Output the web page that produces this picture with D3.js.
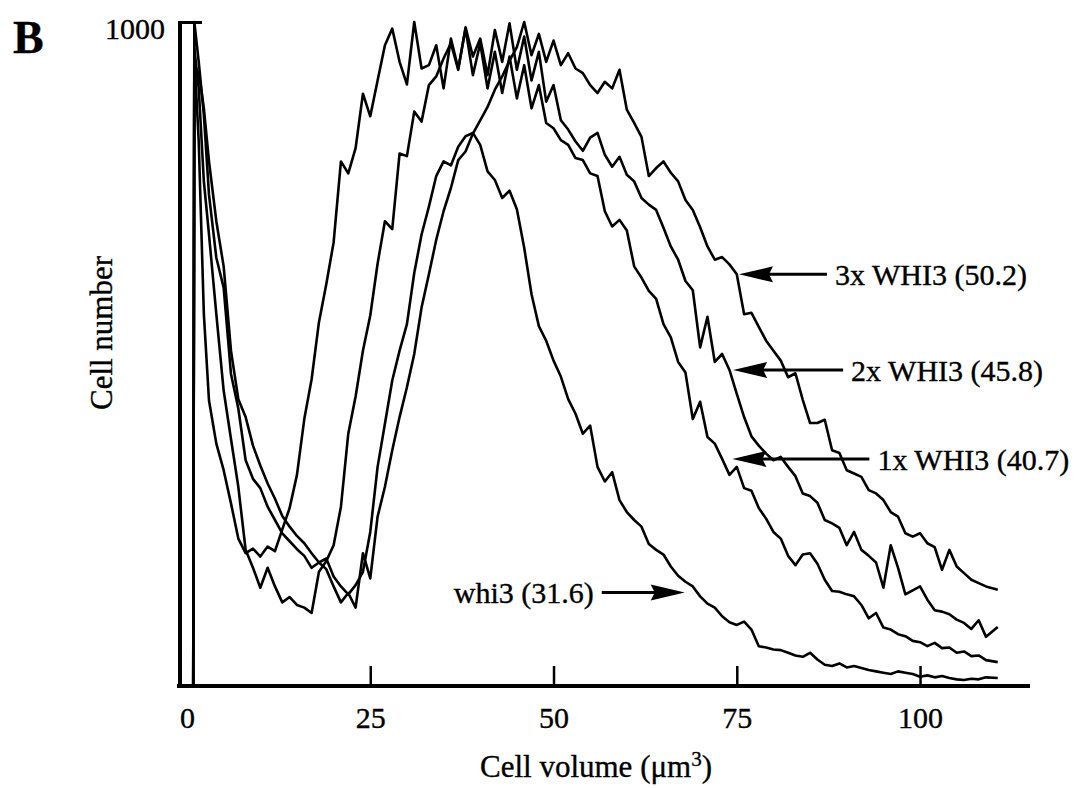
<!DOCTYPE html>
<html lang="en">
<meta charset="utf-8">
<script src="https://d3js.org/d3.v7.js"></script>
<style>
  body { margin: 0; background: #fff; }
  text { font-family: "Liberation Serif", "Times New Roman", serif; fill: #000; stroke: #000; stroke-width: 0.35px; }
</style>
<body>
<div id="my_dataviz"></div>
<script>

// cell volume (um^3) for each channel
const volume = [1, 1.6, 2.3, 3, 4, 5, 6, 7, 8, 9, 10, 11, 12, 13, 14, 15, 16, 17, 18, 19, 20,
  21, 22, 23, 24, 25, 26, 27, 28, 29, 30, 31, 32, 33, 34, 35, 36, 37, 38, 39, 40,
  41, 42, 43, 44, 45, 46, 47, 48, 49, 50, 51, 52, 53, 54, 55, 56, 57, 58, 59, 60,
  61, 62, 63, 64, 65, 66, 67, 68, 69, 70, 71, 72, 73, 74, 75, 76, 77, 78, 79, 80,
  81, 82, 83, 84, 85, 86, 87, 88, 89, 90, 91, 92, 93, 94, 95, 96, 97, 98, 99, 100,
  101, 102, 103, 104, 105, 106, 107, 108, 109, 110.6];

// cell number, one value per volume channel
const oneX = [950, 820, 560, 430, 365, 325, 275, 222, 200, 207, 195, 210, 203, 236, 268, 318, 402, 462, 548, 605, 668,
  790, 772, 810, 892, 858, 912, 965, 990, 940, 906, 1000, 930, 935, 965, 900, 975, 930, 990, 920, 968,
  900, 955, 893, 948, 885, 935, 870, 905, 848, 840, 822, 815, 795, 792, 772, 768, 715, 692, 702, 686,
  632, 615, 595, 583, 545, 525, 488, 472, 402, 428, 375, 365, 342, 318, 330, 298, 294, 268, 252, 232,
  222, 196, 182, 198, 200, 184, 160, 143, 142, 138, 135, 122, 102, 110, 88, 85, 78, 75, 68, 66,
  60, 65, 57, 58, 50, 52, 45, 46, 39, 36];

const twoX = [960, 900, 760, 680, 560, 445, 372, 300, 205, 178, 148, 178, 150, 126, 134, 122, 118, 110, 172, 188, 212,
  270, 380, 436, 505, 558, 636, 700, 688, 802, 798, 865, 850, 905, 918, 945, 968, 928, 992, 948, 975,
  920, 988, 940, 998, 928, 978, 912, 955, 880, 905, 852, 838, 820, 806, 826, 833, 800, 782, 797, 770,
  760, 735, 725, 717, 690, 662, 642, 610, 596, 510, 556, 488, 500, 476, 440, 405, 376, 362, 350, 340,
  345, 330, 316, 290, 286, 276, 250, 245, 238, 212, 232, 205, 196, 186, 148, 212, 178, 138, 144, 150,
  130, 114, 112, 108, 100, 95, 86, 99, 74, 89];

const threeX = [930, 925, 870, 790, 700, 632, 505, 432, 405, 362, 332, 305, 282, 256, 240, 226, 215, 200, 186, 176, 150,
  126, 140, 118, 200, 162, 255, 300, 355, 405, 450, 500, 570, 620, 672, 715, 750, 792, 805, 832, 852,
  872, 898, 918, 942, 962, 1000, 950, 982, 940, 972, 935, 953, 930, 923, 905, 893, 910, 900, 928, 868,
  848, 827, 768, 780, 790, 773, 760, 732, 717, 691, 662, 642, 646, 635, 620, 560, 562, 541, 520, 505,
  490, 465, 471, 431, 396, 396, 401, 355, 351, 325, 320, 315, 295, 290, 280, 262, 255, 230, 225, 230,
  215, 209, 175, 205, 180, 170, 160, 155, 150, 145];

const whi3 = [1000, 940, 860, 740, 645, 600, 470, 418, 340, 312, 298, 270, 250, 230, 218, 206, 196, 178, 186, 192, 165,
  150, 138, 152, 172, 232, 330, 395, 460, 505, 545, 622, 680, 722, 768, 790, 784, 812, 828, 833, 815,
  775, 762, 735, 746, 718, 660, 590, 542, 520, 490, 466, 432, 410, 380, 392, 330, 308, 322, 280, 262,
  250, 240, 214, 205, 198, 180, 166, 157, 150, 135, 124, 118, 105, 96, 92, 97, 85, 60, 58, 55,
  54, 50, 46, 44, 50, 40, 32, 30, 34, 28, 30, 27, 24, 22, 20, 18, 22, 20, 18, 14,
  16, 13, 15, 12, 10, 9, 11, 10, 13, 12];

const allSeries = [oneX, twoX, threeX, whi3];

// ticks
const xTicks = [0, 25, 50, 75, 100];
const yTicks = [1000];

// arrow labels: text, point the arrow touches (volume, cell number), shaft length in px
const labelText = ["3x WHI3 (50.2)", "2x WHI3 (45.8)", "1x WHI3 (40.7)", "whi3 (31.6)"];
const labelTipV = [75.3, 74.5, 74.4, 67.9];
const labelTipN = [620, 476, 342, 141];
const labelShaft = [88, 110, 137, -83];

const svg = d3.select("#my_dataviz")
  .append("svg")
    .attr("width", 1081)
    .attr("height", 788);

const x = d3.scaleLinear()
  .domain([0, 115])
  .range([187, 1030]);

const y = d3.scaleLinear()
  .domain([0, 1000])
  .range([686, 22]);

// panel letter
svg.append("text")
  .attr("x", 13)
  .attr("y", 53)
  .style("font-size", "46px")
  .style("font-weight", "bold")
  .text("B");

// the histograms, each starting at the baseline
const line = d3.line()
  .x(function(d) { return x(d[0]) })
  .y(function(d) { return y(d[1]) });

svg.append("g")
  .selectAll("path.hist")
  .data(allSeries)
  .enter()
  .append("path")
    .attr("class", "hist")
    .attr("d", function(s) {
      const pts = [[0.85, 0]].concat(s.map(function(n, i) { return [volume[i], n] }));
      return line(pts);
    })
    .attr("fill", "none")
    .attr("stroke", "#000")
    .attr("stroke-width", 2.6)
    .attr("stroke-linejoin", "round");

// X axis, ticks pointing up into the plot
const xAxis = svg.append("g")
  .attr("transform", "translate(0,686)")
  .call(d3.axisBottom(x).tickValues(xTicks).tickSizeInner(-20).tickSizeOuter(0).tickPadding(21));
xAxis.select(".domain").remove();
xAxis.selectAll(".tick line").attr("stroke", "#000").attr("stroke-width", 2.5)
  .attr("opacity", function(d) { return d === 0 ? 0 : 1 });
xAxis.selectAll(".tick text").style("font-size", "30px");
xAxis.append("line")
  .attr("x1", 177).attr("x2", 1030)
  .attr("y1", 0).attr("y2", 0)
  .attr("stroke", "#000")
  .attr("stroke-width", 4);

// Y axis with only the top value
const yAxis = svg.append("g")
  .attr("transform", "translate(180,0)")
  .call(d3.axisLeft(y).tickValues(yTicks).tickFormat(d3.format("d")).tickSizeInner(-22).tickSizeOuter(0).tickPadding(15));
yAxis.select(".domain").remove();
yAxis.selectAll(".tick line").attr("stroke", "#000").attr("stroke-width", 3);
yAxis.selectAll(".tick text").style("font-size", "30px").attr("dy", "0.55em");
yAxis.append("line")
  .attr("x1", 0).attr("x2", 0)
  .attr("y1", 21).attr("y2", 688)
  .attr("stroke", "#000")
  .attr("stroke-width", 4);

// axis titles
svg.append("text")
  .attr("x", 596)
  .attr("y", 777)
  .attr("text-anchor", "middle")
  .style("font-size", "31px")
  .html('Cell volume (\u03bcm<tspan dy="-11" font-size="21px">3</tspan><tspan dy="11">)</tspan>');

svg.append("text")
  .attr("transform", "translate(112,333) rotate(-90)")
  .attr("text-anchor", "middle")
  .style("font-size", "31px")
  .text("Cell number");

// arrows and labels
labelText.forEach(function(t, i) {
  const tx = x(labelTipV[i]), ty = y(labelTipN[i]);
  const len = labelShaft[i];
  const dir = len > 0 ? 1 : -1;
  const head = 34;
  svg.append("line")
    .attr("x1", tx + dir * head * 0.6).attr("x2", tx + len)
    .attr("y1", ty).attr("y2", ty)
    .attr("stroke", "#000").attr("stroke-width", 3);
  svg.append("path")
    .attr("d", "M" + tx + "," + ty + "L" + (tx + dir * head) + "," + (ty - 8) + "L" + (tx + dir * (head - 4)) + "," + ty + "L" + (tx + dir * head) + "," + (ty + 8) + "Z")
    .attr("fill", "#000");
  svg.append("text")
    .attr("x", tx + len + dir * 8)
    .attr("y", ty + 11)
    .attr("text-anchor", dir > 0 ? "start" : "end")
    .style("font-size", "30px")
    .text(t);
});

</script>
</body>
</html>
